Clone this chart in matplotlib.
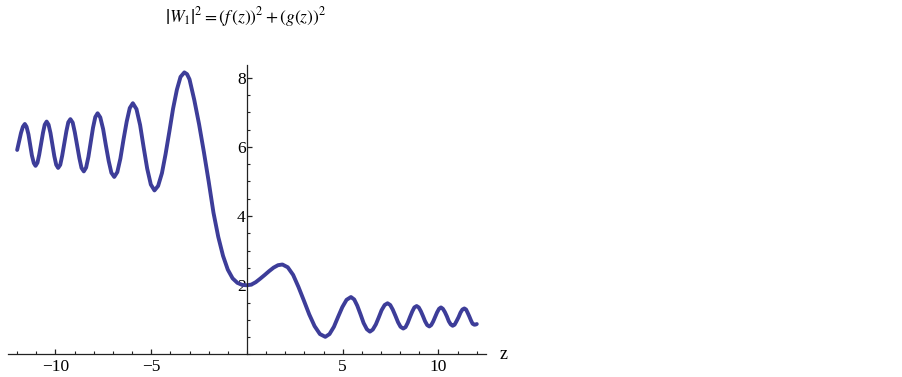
import matplotlib
matplotlib.use("Agg")
import matplotlib.pyplot as plt
from matplotlib.ticker import MultipleLocator, FixedLocator

# |W1|^2 (z, value)
z = [-12.0, -11.9, -11.8, -11.7, -11.6,
     -11.51, -11.41, -11.32, -11.23, -11.13, -11.04,
     -10.94, -10.85, -10.75, -10.65, -10.56, -10.46,
     -10.36, -10.26, -10.16, -10.06, -9.96, -9.86,
     -9.75, -9.65, -9.54, -9.43, -9.33, -9.22,
     -9.10, -8.99, -8.87, -8.75, -8.64, -8.52,
     -8.40, -8.28, -8.16, -8.04, -7.92, -7.80,
     -7.66, -7.51, -7.37, -7.22, -7.08, -6.93,
     -6.77, -6.61, -6.45, -6.28, -6.12, -5.96,
     -5.77, -5.58, -5.40, -5.21, -5.02, -4.83,
     -4.64, -4.44, -4.25, -4.05, -3.86, -3.66, -3.47, -3.27,
     -3.13, -3.0, -2.75, -2.5, -2.25, -2.0, -1.75, -1.5, -1.25, -1.0, -0.75, -0.5, -0.25, 0.0,
     0.23, 0.46, 0.69, 0.93, 1.16, 1.39, 1.62, 1.85,
     2.13, 2.41, 2.69, 2.97, 3.25, 3.53, 3.81, 4.09,
     4.31, 4.54, 4.76, 4.98, 5.20, 5.43,
     5.60, 5.76, 5.93, 6.09, 6.26, 6.42,
     6.57, 6.73, 6.88, 7.03, 7.19, 7.34,
     7.48, 7.61, 7.75, 7.89, 8.02, 8.16,
     8.28, 8.39, 8.51, 8.63, 8.74, 8.86,
     8.97, 9.08, 9.19, 9.30, 9.41, 9.52,
     9.62, 9.72, 9.83, 9.93, 10.03, 10.13,
     10.23, 10.33, 10.44, 10.54, 10.64, 10.74,
     10.84, 10.94, 11.05, 11.15, 11.25, 11.35,
     11.44, 11.52, 11.61, 11.70, 11.78, 11.87,
     11.94, 12.0]
w2 = [5.91, 6.15, 6.40, 6.58, 6.66,
      6.58, 6.36, 6.06, 5.75, 5.53, 5.45,
      5.54, 5.77, 6.09, 6.41, 6.64, 6.73,
      6.64, 6.40, 6.06, 5.73, 5.48, 5.39,
      5.48, 5.74, 6.10, 6.45, 6.71, 6.80,
      6.70, 6.42, 6.05, 5.67, 5.39, 5.29,
      5.40, 5.71, 6.13, 6.55, 6.86, 6.97,
      6.85, 6.51, 6.05, 5.59, 5.25, 5.13,
      5.27, 5.66, 6.20, 6.73, 7.12, 7.26,
      7.09, 6.63, 6.00, 5.37, 4.91, 4.74,
      4.87, 5.24, 5.79, 6.45, 7.10, 7.65, 8.02, 8.15,
      8.10, 7.95, 7.35, 6.65, 5.85, 5.0, 4.1, 3.4, 2.85, 2.45, 2.2, 2.07, 2.01, 2.0,
      2.02, 2.09, 2.19, 2.30, 2.41, 2.51, 2.58, 2.60,
      2.52, 2.30, 1.95, 1.56, 1.16, 0.82, 0.59, 0.51,
      0.59, 0.80, 1.09, 1.37, 1.58, 1.66,
      1.59, 1.41, 1.16, 0.91, 0.73, 0.66,
      0.72, 0.87, 1.07, 1.28, 1.43, 1.48,
      1.43, 1.30, 1.12, 0.93, 0.80, 0.75,
      0.79, 0.91, 1.08, 1.24, 1.36, 1.40,
      1.36, 1.25, 1.11, 0.96, 0.85, 0.81,
      0.85, 0.95, 1.09, 1.22, 1.32, 1.36,
      1.32, 1.23, 1.10, 0.96, 0.87, 0.83,
      0.86, 0.96, 1.08, 1.21, 1.30, 1.33,
      1.30, 1.21, 1.10, 0.98, 0.89, 0.86,
      0.865, 0.88]

x_ticks = [-10, -5, 5, 10]
y_ticks = [2, 4, 6, 8]

plt.rcParams['font.family'] = 'Liberation Serif'
plt.rcParams['mathtext.fontset'] = 'stix'

fig = plt.figure(figsize=(9.03, 3.77), dpi=100)
ax = fig.add_axes([0.0084, 0.0597, 0.5302, 0.7666])

ax.plot(z, w2, color='#3d3d99', lw=2.8, solid_capstyle='round', solid_joinstyle='round')

ax.set_xlim(-12.5, 12.5)
ax.set_ylim(0, 8.35)

for s in ['top', 'right']:
    ax.spines[s].set_visible(False)
ax.spines['left'].set_position(('data', 0))
ax.spines['bottom'].set_position(('data', 0))
for s in ['left', 'bottom']:
    ax.spines[s].set_linewidth(0.9)
    ax.spines[s].set_color('#222222')

ax.xaxis.set_major_locator(FixedLocator(x_ticks))
ax.xaxis.set_minor_locator(MultipleLocator(1))
ax.yaxis.set_major_locator(FixedLocator(y_ticks))
ax.yaxis.set_minor_locator(MultipleLocator(0.5))
ax.set_xticklabels(['\u221210', '\u22125', '5', '10'])
ax.set_yticklabels([str(v) for v in y_ticks])

ax.tick_params(axis='both', which='both', direction='in', color='#222222', labelsize=12.5)
ax.tick_params(axis='both', which='major', length=3.5, width=0.9)
ax.tick_params(axis='both', which='minor', length=2, width=0.8)
ax.tick_params(axis='x', pad=3)
ax.tick_params(axis='y', pad=1)
ax.patch.set_visible(False)

ax.text(13.4, 0, 'z', fontsize=13, ha='center', va='center', clip_on=False)

fig.text(246 / 903, 1 - 17 / 377,
         r'$\left|W_1\right|^2=\left(f\,\left(z\right)\right)^2+\left(g\left(z\right)\right)^2$',
         fontsize=12.5, ha='center', va='center')

fig.savefig('out.png', dpi=100)
